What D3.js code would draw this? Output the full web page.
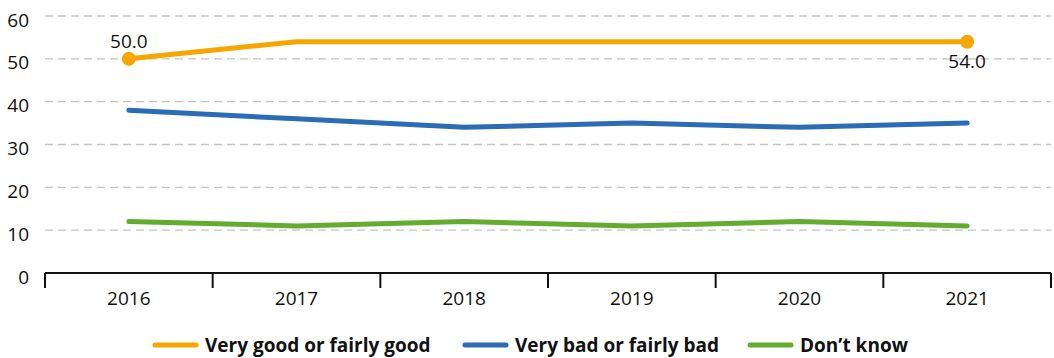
<!DOCTYPE html>
<html>
<head>
<meta charset="utf-8">
<script src="https://cdn.jsdelivr.net/npm/d3@7"></script>
<style>
  body { margin: 0; background: #fff; }
  svg text { font-family: "Open Sans", "Noto Sans", sans-serif; }
</style>
</head>
<body>
<div id="chart"></div>
<script>
// Data
const years = ["2016", "2017", "2018", "2019", "2020", "2021"];
const goodValues = [50, 54, 54, 54, 54, 54];
const badValues = [38, 36, 34, 35, 34, 35];
const dontKnowValues = [12, 11, 12, 11, 12, 11];
const yTicks = [0, 10, 20, 30, 40, 50, 60];
const seriesNames = ["Very good or fairly good", "Very bad or fairly bad", "Don\u2019t know"];

const width = 1054, height = 358;
const margin = { top: 16, right: 3, bottom: 85, left: 45 };

const svg = d3.select("#chart")
  .append("svg")
  .attr("width", width)
  .attr("height", height);

const x = d3.scaleBand()
  .domain(years)
  .range([margin.left, width - margin.right]);

const y = d3.scaleLinear()
  .domain([0, 60])
  .range([height - margin.bottom, margin.top]);

const colors = ["#f7a600", "#2b6cb4", "#62ac2f"];

// Grid lines
svg.append("g")
  .selectAll("line")
  .data(yTicks.filter(d => d > 0))
  .join("line")
  .attr("x1", margin.left)
  .attr("x2", width - margin.right)
  .attr("y1", d => y(d))
  .attr("y2", d => y(d))
  .attr("stroke", "#c4c4c4")
  .attr("stroke-width", 1.3)
  .attr("stroke-dasharray", "8,5");

// Y labels
svg.append("g")
  .selectAll("text")
  .data(yTicks)
  .join("text")
  .attr("x", 29)
  .attr("y", d => y(d) + 10.5)
  .attr("text-anchor", "end")
  .attr("font-size", 19)
  .attr("fill", "#111")
  .text(d => d);

// X axis
const xAxis = svg.append("g")
  .attr("transform", `translate(0,${y(0)})`);
xAxis.append("line")
  .attr("x1", margin.left)
  .attr("x2", width - margin.right)
  .attr("stroke", "#111")
  .attr("stroke-width", 2);
const bounds = years.map(d => x(d)).concat([x(years[years.length - 1]) + x.bandwidth()]);
xAxis.selectAll("line.tick")
  .data(bounds)
  .join("line")
  .attr("class", "tick")
  .attr("x1", d => d)
  .attr("x2", d => d)
  .attr("y1", 0)
  .attr("y2", 15)
  .attr("stroke", "#111")
  .attr("stroke-width", 2);
xAxis.selectAll("text")
  .data(years)
  .join("text")
  .attr("x", d => x(d) + x.bandwidth() / 2)
  .attr("y", 32)
  .attr("text-anchor", "middle")
  .attr("font-size", 19)
  .attr("fill", "#111")
  .text(d => d);

// Lines
const series = [goodValues, badValues, dontKnowValues];
const line = d3.line()
  .x((d, i) => x(years[i]) + x.bandwidth() / 2)
  .y(d => y(d));

series.forEach((vals, k) => {
  svg.append("path")
    .datum(vals)
    .attr("fill", "none")
    .attr("stroke", colors[k])
    .attr("stroke-width", 5)
    .attr("stroke-linejoin", "round")
    .attr("stroke-linecap", "round")
    .attr("d", line);
});

// End markers and labels on the first series
const ends = [0, goodValues.length - 1];
svg.append("g")
  .selectAll("circle")
  .data(ends)
  .join("circle")
  .attr("cx", i => x(years[i]) + x.bandwidth() / 2)
  .attr("cy", i => y(goodValues[i]))
  .attr("r", 7)
  .attr("fill", colors[0]);

svg.append("g")
  .selectAll("text")
  .data(ends)
  .join("text")
  .attr("x", i => x(years[i]) + x.bandwidth() / 2)
  .attr("y", (i, j) => y(goodValues[i]) + (j === 0 ? -11 : 26))
  .attr("text-anchor", "middle")
  .attr("font-size", 19)
  .attr("fill", "#111")
  .text(i => goodValues[i].toFixed(1));

// Legend
const legendX = [155, 465, 750];
const legend = svg.append("g")
  .attr("transform", "translate(0,345)");
legend.selectAll("line")
  .data(seriesNames)
  .join("line")
  .attr("x1", (d, i) => legendX[i])
  .attr("x2", (d, i) => legendX[i] + 41)
  .attr("stroke", (d, i) => colors[i])
  .attr("stroke-width", 5)
  .attr("stroke-linecap", "round");
legend.selectAll("text")
  .data(seriesNames)
  .join("text")
  .attr("x", (d, i) => legendX[i] + 50)
  .attr("y", 7)
  .attr("font-family", "'Liberation Sans Narrow', 'Roboto Condensed', sans-serif")
  .attr("font-weight", "bold")
  .attr("font-size", 19)
  .attr("fill", "#111")
  .text(d => d);
</script>
</body>
</html>
